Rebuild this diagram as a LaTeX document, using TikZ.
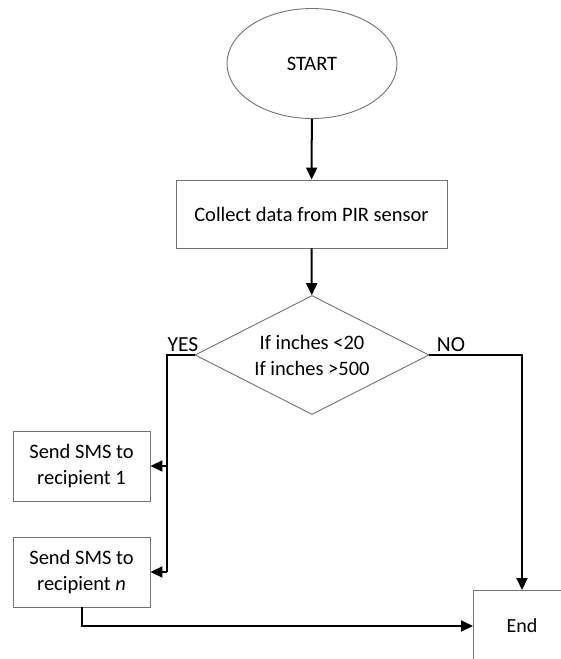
\documentclass[tikz,border=0pt]{standalone}
\usepackage{fontspec}
\setmainfont{Carlito}
\usetikzlibrary{arrows.meta,shapes.geometric}
\begin{document}
\begin{tikzpicture}[x=1pt,y=-1pt,
  shapebox/.style={draw=black!55,line width=0.9pt,font=\fontsize{20.5}{26}\selectfont,align=center,inner sep=0pt},
  conn/.style={line width=2pt,-{Triangle[length=12pt,width=11pt]}},
  plain/.style={line width=2pt},
  lbl/.style={font=\fontsize{21.5}{24}\selectfont,inner sep=0pt}]
\useasboundingbox (0,0) rectangle (561,659);
\clip (0,0) rectangle (561,659);
\node[shapebox,ellipse,minimum width=170,minimum height=110] (start) at (312,63.5) {START};
\node[shapebox,rectangle,minimum width=271,minimum height=68] (collect) at (311.5,214) {Collect data from PIR sensor};
\node[shapebox,diamond,minimum width=234,minimum height=119,aspect=2] (dec) at (312,355) {If inches <20\\If inches >500};
\node[shapebox,rectangle,minimum width=137,minimum height=70] (sms1) at (81.5,466) {Send SMS to\\recipient 1};
\node[shapebox,rectangle,minimum width=137,minimum height=70] (smsn) at (81.5,572) {Send SMS to\\recipient \textit{n}};
\node[shapebox,rectangle,minimum width=150,minimum height=150,anchor=north west] (endbox) at (473,590) {};
\node[lbl,font=\fontsize{20}{24}\selectfont] (endtxt) at (522,626) {End};
\node[lbl,anchor=south] (yes) at (183,352) {YES};
\node[lbl,anchor=south] (no) at (451,352) {NO};
\coordinate (yl) at (167,355);
\coordinate (nr) at (522,355);
\draw[conn] (start) -- (collect);
\draw[conn] (collect) -- (dec);
\draw[plain] (dec.west) -- (yl) -- (yl |- smsn.east);
\draw[conn] (yl |- sms1.east) -- (sms1.east);
\draw[conn] (yl |- smsn.east) -- (smsn.east);
\draw[conn] (dec.east) -- (nr) -- (endtxt |- endbox.north);
\draw[conn] (smsn.south) -- (smsn.south |- endtxt) -- (endtxt -| endbox.west);
\end{tikzpicture}
\end{document}
